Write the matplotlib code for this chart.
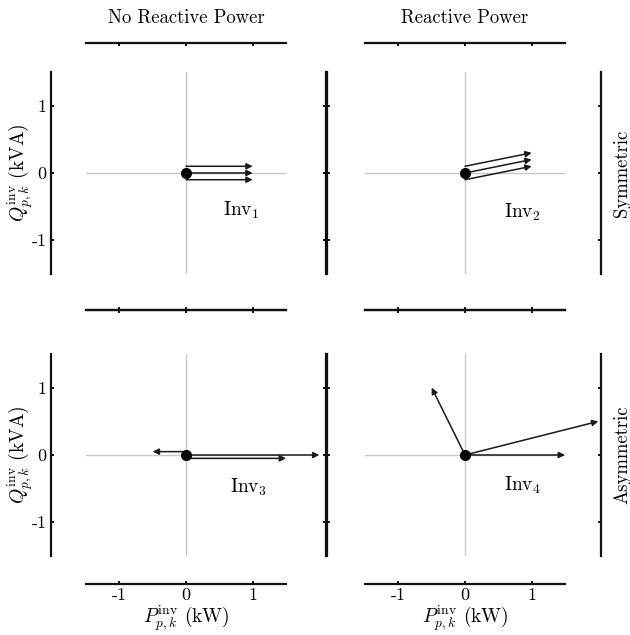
import matplotlib
matplotlib.use("Agg")
import matplotlib.pyplot as plt

plt.rcParams["font.family"] = "cmr10"
plt.rcParams["mathtext.fontset"] = "cm"
plt.rcParams["axes.unicode_minus"] = False

# tick values / labels (P and Q in kW / kVA)
ticks = [-1, 0, 1]
tick_labels = ["-1", "0", "1"]
lim = 1.5

col_titles = ["No Reactive Power", "Reactive Power"]
row_titles = ["Symmetric", "Asymmetric"]
inv_names = ["Inv$_1$", "Inv$_2$", "Inv$_3$", "Inv$_4$"]

# phase vectors: start (p0, q0) -> end (p1, q1), one per phase
inv1_p0 = [0, 0, 0]
inv1_q0 = [0.1, 0, -0.1]
inv1_p1 = [1, 1, 1]
inv1_q1 = [0.1, 0, -0.1]

inv2_p0 = [0, 0, 0]
inv2_q0 = [0.1, 0, -0.1]
inv2_p1 = [1, 1, 1]
inv2_q1 = [0.3, 0.2, 0.1]

inv3_p0 = [0, 0, 0]
inv3_q0 = [0.05, 0, -0.05]
inv3_p1 = [-0.5, 2, 1.5]
inv3_q1 = [0.05, 0, -0.05]

inv4_p0 = [0, 0, 0]
inv4_q0 = [0, 0, 0]
inv4_p1 = [-0.5, 2, 1.5]
inv4_q1 = [1, 0.5, 0]

vectors = [
    (inv1_p0, inv1_q0, inv1_p1, inv1_q1),
    (inv2_p0, inv2_q0, inv2_p1, inv2_q1),
    (inv3_p0, inv3_q0, inv3_p1, inv3_q1),
    (inv4_p0, inv4_q0, inv4_p1, inv4_q1),
]
label_pos = [(0.55, -0.55), (0.58, -0.58), (0.66, -0.48), (0.58, -0.45)]

W, H = 630, 635
fig = plt.figure(figsize=(W / 100, H / 100), dpi=100)

# pixel boxes of the data areas (x0, y_top)
col_x = [86, 365]
row_y = [72, 354]
box_w, box_h = 200, 202
# spine offsets in pixels: left, right, top, bottom
col_off = [(35, 40), (38, 36)]
row_off = [(29, 36), (44, 28)]

px = 0.72  # pixels -> points at 100 dpi

for r in range(2):
    for c in range(2):
        k = r * 2 + c
        ax = fig.add_axes([col_x[c] / W, (H - row_y[r] - box_h) / H, box_w / W, box_h / H])
        ax.set_xlim(-lim, lim)
        ax.set_ylim(-lim, lim)
        ax.patch.set_visible(False)

        ax.axhline(0, color="#c8c8c8", lw=1, zorder=0)
        ax.axvline(0, color="#c8c8c8", lw=1, zorder=0)

        p0, q0, p1, q1 = vectors[k]
        for a, b, x, y in zip(p0, q0, p1, q1):
            ax.annotate("", xy=(x, y), xytext=(a, b), annotation_clip=False,
                        arrowprops=dict(arrowstyle="-|>", lw=1.1, color="#1a1a1a",
                                        mutation_scale=9, shrinkA=0, shrinkB=0))
        ax.plot([0], [0], "o", color="black", ms=7, zorder=5)

        lx, ly = label_pos[k]
        ax.text(lx, ly, inv_names[k], fontsize=14, ha="left", va="center")

        ax.spines["left"].set_position(("outward", col_off[c][0] * px))
        ax.spines["right"].set_position(("outward", col_off[c][1] * px))
        ax.spines["top"].set_position(("outward", row_off[r][0] * px))
        ax.spines["bottom"].set_position(("outward", row_off[r][1] * px))
        for s in ax.spines.values():
            s.set_linewidth(1.6)
            s.set_color("#111111")

        ax.set_xticks(ticks)
        ax.set_yticks(ticks)
        ax.tick_params(direction="in", length=2.5, width=1.3, top=True, right=True,
                       labelsize=13, pad=3)
        if c == 0:
            ax.set_yticklabels(tick_labels)
        else:
            ax.set_yticklabels([])
        if r == 1:
            ax.set_xticklabels(tick_labels)
        else:
            ax.set_xticklabels([])

        cx = (col_x[c] + box_w / 2) / W
        cy = (row_y[r] + box_h / 2)
        if r == 0:
            fig.text(cx, 1 - 18 / H, col_titles[c], ha="center", va="center", fontsize=13.5)
        else:
            fig.text(cx, 2 / H, r"$P^{\mathrm{inv}}_{p,k}$ (kW)",
                     ha="center", va="bottom", fontsize=14)
        if c == 0:
            fig.text(20 / W, 1 - cy / H, r"$Q^{\mathrm{inv}}_{p,k}$ (kVA)",
                     ha="center", va="center", rotation=90, fontsize=14)
        else:
            fig.text(622 / W, 1 - cy / H, row_titles[r], ha="center", va="center",
                     rotation=90, fontsize=13.5)

fig.savefig("out.png", dpi=100)
